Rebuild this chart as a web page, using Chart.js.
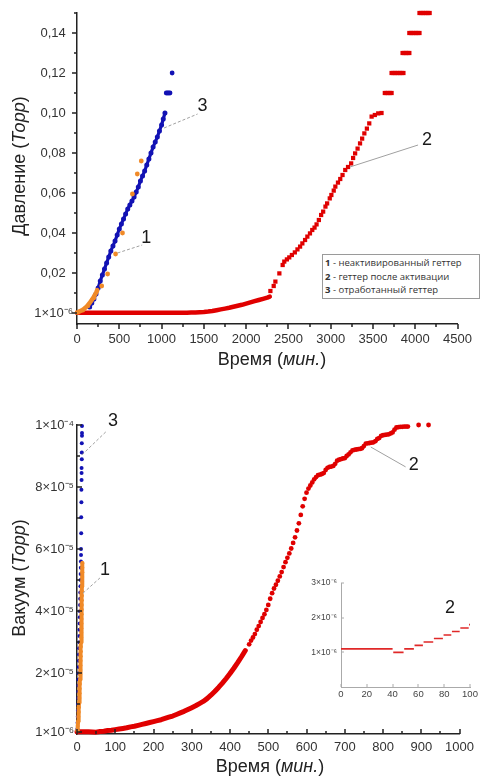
<!DOCTYPE html>
<html><head><meta charset="utf-8">
<script src="https://cdn.jsdelivr.net/npm/chart.js@4.4.1/dist/chart.umd.min.js"></script>
<style>
html,body{margin:0;padding:0;background:#fff;}
#page{position:relative;width:480px;height:776px;overflow:hidden;background:#fff;}
canvas{position:absolute;display:block;}
#legend{position:absolute;left:322px;top:254px;width:158px;height:45px;box-sizing:border-box;border:1px solid #9a9a9a;background:#fff;font:9.5px "Open Sans",sans-serif;color:#333;line-height:13.5px;padding:1px 0 0 2px;white-space:nowrap;}
</style></head>
<body><div id="page">
<canvas id="topChart" width="480" height="372" style="left:0;top:0"></canvas>
<canvas id="bottomChart" width="480" height="376" style="left:0;top:400px"></canvas>
<canvas id="insetChart" width="180" height="150" style="left:300px;top:560px"></canvas>
<div id="legend"></div>
</div>
<script>
// ---------- DATA ----------
const legendNumbers = ['1','2','3'];
const legendNames = ['неактивированный геттер','геттер после активации','отработанный геттер'];

// Top chart: time (min) vs pressure (Torr)
const topXTickValues = [0,500,1000,1500,2000,2500,3000,3500,4000,4500];
const topXMinor = [250,750,1250,1750,2250,2750,3250,3750,4250];
const topYTickValues = [0.000001,0.02,0.04,0.06,0.08,0.10,0.12,0.14];
const topYTickLabels = ['1×10⁻⁶','0,02','0,04','0,06','0,08','0,10','0,12','0,14'];
const topYMinor = [0.01,0.03,0.05,0.07,0.09,0.11,0.13,0.15];

const topOrangeDense = [[0,0.0002],[10,0.0004],[20,0.0006],[30,0.0008],[40,0.001],[50,0.0012],[60,0.0014],[70,0.0017],[80,0.002],[90,0.0023],[100,0.0027],[110,0.003],[120,0.0035],[130,0.004],[140,0.0045],[150,0.005],[160,0.0056],[170,0.0062],[180,0.0068],[190,0.0075],[200,0.0082],[210,0.0089],[220,0.0097],[230,0.0105],[240,0.0115]];
const topOrangeSparse = [[292,0.0135],[362,0.0195],[456,0.0295],[538,0.04],[655,0.0595],[713,0.0695],[760,0.076]];

const topBlueMain = [[150,0.003],[175,0.005],[200,0.007],[225,0.0095],[250,0.0125],[275,0.016],[300,0.019],[325,0.022],[350,0.025],[375,0.028],[400,0.031],[425,0.0335],[450,0.036],[475,0.039],[500,0.042],[525,0.0445],[550,0.047],[575,0.0495],[600,0.052],[625,0.054],[650,0.056],[675,0.058],[700,0.0605],[725,0.063],[750,0.066],[775,0.0685],[800,0.071],[825,0.074],[850,0.077],[875,0.08],[900,0.083],[925,0.0855],[950,0.088],[975,0.091],[1000,0.094],[1020,0.097],[1040,0.1]];
const topBlueTop = [[1055,0.11],[1070,0.11],[1085,0.11],[1100,0.11],[1125,0.12]];

const topRedFlat = [[0,0.0001],[50,0.0001],[100,0.0001],[150,0.0001],[200,0.0001],[250,0.0001],[300,0.0001],[350,0.0001],[400,0.0001],[450,0.0001],[500,0.0001],[550,0.0001],[600,0.0001],[650,0.0001],[700,0.0001],[750,0.0001],[800,0.0001],[850,0.0001],[900,0.0001],[950,0.0001],[1000,0.0001],[1050,0.0001],[1100,0.0001],[1150,0.0001],[1200,0.0001],[1250,0.0001],[1300,0.0001],[1350,0.0002],[1400,0.0003],[1450,0.0004],[1500,0.0005],[1550,0.0007],[1600,0.001],[1650,0.0014],[1700,0.0018],[1750,0.0022],[1800,0.0026],[1850,0.0031],[1900,0.0036],[1950,0.0041],[2000,0.0047],[2050,0.0053],[2100,0.0059],[2150,0.0065],[2200,0.0071],[2250,0.0077],[2280,0.0082]];
const topRedRise = [[2287,0.011],[2326,0.0135],[2346,0.0157],[2393,0.0198],[2432,0.024],[2451,0.0257],[2482,0.0268],[2510,0.0278],[2541,0.029],[2576,0.0303],[2607,0.0318],[2638,0.0332],[2665,0.0348],[2697,0.0365],[2724,0.0382],[2755,0.0398],[2782,0.0415],[2809,0.0427],[2833,0.0443],[2860,0.0465],[2887,0.049],[2911,0.0507],[2938,0.0532],[2958,0.0548],[2989,0.0573],[3008,0.059],[3036,0.0612],[3055,0.0632],[3086,0.0652],[3113,0.067],[3140,0.069],[3172,0.0715],[3205,0.073],[3242,0.0748],[3265,0.0775],[3289,0.0798],[3318,0.0822],[3347,0.0848],[3372,0.0872],[3398,0.0898],[3428,0.0922],[3456,0.0948],[3484,0.0982],[3522,0.099],[3562,0.0998],[3601,0.1]];
const topRedSteps = [[3640,0.11],[3660,0.11],[3680,0.11],[3700,0.11],[3720,0.11],[3720,0.12],[3740,0.12],[3760,0.12],[3780,0.12],[3800,0.12],[3820,0.12],[3840,0.12],[3860,0.12],[3850,0.13],[3870,0.13],[3890,0.13],[3910,0.13],[3930,0.13],[3930,0.14],[3950,0.14],[3970,0.14],[3990,0.14],[4010,0.14],[4030,0.14],[4050,0.14],[4050,0.15],[4070,0.15],[4090,0.15],[4110,0.15],[4130,0.15],[4150,0.15],[4170,0.15]];

const topCallouts = [
  {text:'1', at:[818,0.0375], from:[479,0.03], to:[771,0.034], dash:[3,2]},
  {text:'3', at:[1485,0.1035], from:[1029,0.0925], to:[1426,0.0995], dash:[3,2]},
  {text:'2', at:[4138,0.0865], from:[3227,0.073], to:[4033,0.084], dash:[]}
];

// Bottom chart: time (min) vs vacuum, values in units of 10^-6 Torr
const bottomXTickValues = [0,100,200,300,400,500,600,700,800,900,1000];
const bottomXMinor = [50,150,250,350,450,550,650,750,850,950];
const bottomYTickValues = [1,20,40,60,80,100];
const bottomYTickLabels = ['1×10⁻⁶','2×10⁻⁵','4×10⁻⁵','6×10⁻⁵','8×10⁻⁵','1×10⁻⁴'];
const bottomYMinor = [10,30,50,70,90];

const bottomOrange = [[1,1.5],[2,3],[3,4.5],[3.5,6],[4.5,7.5],[5,9],[5.5,10.5],[6,12],[6.5,13.5],[7,15],[7.5,16.5],[8,18],[8.3,19.5],[8.6,21],[9,22.5],[9.3,24],[9.6,25.5],[10,27],[10.2,28.5],[10.5,30],[10.8,31.5],[11,33],[11.2,34.5],[11.5,36],[11.7,37.5],[12,39],[12.2,40.5],[12.4,42],[12.6,43.5],[12.8,45],[13,46.5],[13.2,48],[13.4,49.5],[13.6,51],[13.8,52.5],[14,54],[14.2,55.5]];
const bottomBlue = [[1,2],[1.5,4],[2,6],[2.5,8],[3,10],[3.2,12],[3.5,14],[3.8,16],[4,18],[4.3,20],[4.6,22],[5,24],[5.3,26],[5.6,28],[6,30],[6.3,32],[6.6,34],[7,36],[7.3,38],[7.6,40],[8,42],[8.3,44],[8.6,46],[9,48],[9.3,50],[9.6,52],[10,54],[10.3,56],[10.5,58.1],[10.5,60],[11,65.1],[11,70.3],[11.5,75.1],[11.5,79.1],[12,82.3],[12,84.5],[12,86.1],[12.5,89],[12.5,91.1],[12.5,94.1],[13,96.5],[13,97.4],[13,99.7]];
const bottomRedSlow = [[0,1.1],[10,1.1],[20,1.1],[30,1.1],[40,1.05],[50,1.0],[60,1.2],[70,1.3],[80,1.5],[90,1.6],[100,1.8],[110,2.0],[120,2.2],[130,2.4],[140,2.7],[150,2.9],[160,3.2],[170,3.5],[180,3.8],[190,4.1],[200,4.4],[210,4.7],[220,5.0],[230,5.4],[240,5.8],[250,6.2],[260,6.7],[270,7.2],[280,7.7],[290,8.3],[300,8.9],[310,9.5],[320,10.2],[330,10.9],[340,11.8],[350,12.9],[360,14.1],[370,15.4],[380,16.8],[390,18.3],[400,19.9],[410,21.6],[420,23.4],[430,25.3],[440,27.3]];
const bottomRedFast = [[450,29.3],[455,30.5],[460,31.5],[465,32.6],[470,34.0],[475,35.2],[480,36.5],[485,37.8],[490,39.0],[495,40.4],[500,42.0],[505,44.0],[510,45.8],[515,47.3],[520,48.5],[525,49.8],[530,51.2],[535,52.6],[540,54.2],[545,55.8],[550,57.2],[555,58.6],[560,60.2],[565,62.0],[570,63.8],[575,66.0],[580,68.3],[585,71.0],[590,73.8],[595,76.2],[600,78.2]];
const bottomRedPlateau = [[605,79.5],[610,80.5],[615,81.5],[620,82.5],[625,83.2],[630,83.8],[635,84.0],[640,84.2],[645,84.5],[650,85.5],[655,86.2],[660,86.5],[665,86.6],[670,86.8],[675,87.5],[680,88.5],[685,88.8],[690,89.0],[695,89.2],[700,89.3],[705,90.0],[710,90.5],[715,91.2],[720,91.8],[725,92.0],[730,92.1],[735,92.2],[740,92.3],[745,92.5],[750,93.2],[755,94.0],[760,94.1],[765,94.2],[770,94.3],[775,94.4],[780,94.8],[785,95.5],[790,95.8],[795,96.5],[800,96.7],[805,96.8],[810,96.9],[815,97.0],[820,97.3],[825,97.6],[830,98.5],[835,99.2],[840,99.3],[845,99.4],[850,99.4],[855,99.5],[860,99.5],[865,99.5],[893,100],[919,100]];

const bottomCallouts = [
  {text:'3', at:[94,101.3], from:[13,90.4], to:[78,98.1], dash:[3,2]},
  {text:'1', at:[73,53.3], from:[15.6,45.8], to:[60,50.7], dash:[3,2]},
  {text:'2', at:[880,87.1], from:[768,92.9], to:[859,86.5], dash:[]}
];

// Inset: first 100 min of series 2, units of 10^-6 Torr
const insetXTickValues = [0,20,40,60,80,100];
const insetYTickValues = [1,2,3];
const insetYTickLabels = ['1×10⁻⁶','2×10⁻⁶','3×10⁻⁶'];
const insetStepStart = [0,40.5,49,57,64,72,79.5,86,92.5,99.3];
const insetStepEnd   = [40,48.5,56.5,63.5,71.5,79,85.5,92,99,100];
const insetStepValue = [1.1,1.0,1.1,1.2,1.3,1.4,1.5,1.6,1.7,1.8];
const insetCallouts = [{text:'2', at:[84.5,2.28], from:null, to:null}];

// ---------- STYLE ----------
const FONT = '"Liberation Sans", Arial, sans-serif';
const ORANGE = '#f08a28', BLUE = '#1212b4', RED = '#e00000';

document.getElementById('legend').innerHTML = legendNumbers.map((n,i)=>'<div><b>'+n+'</b> - '+legendNames[i]+'</div>').join('');

const toXY = arr => arr.map(p=>({x:p[0], y:p[1]}));
const pts = (label, arr, color, r, style) => ({label, data:toXY(arr), pointBackgroundColor:color, pointBorderWidth:0, pointRadius:r, pointStyle:style||'circle', showLine:false, clip:false});
const band = (label, arr, color, w, r) => ({label, data:toXY(arr), showLine:true, borderColor:color, borderWidth:w, borderCapStyle:'round', borderJoinStyle:'round', tension:0, pointBackgroundColor:color, pointBorderWidth:0, pointRadius:r||0, clip:false});

const tickPlugin = {
  id:'tickMarks',
  afterDraw(chart,_a,o){
    const {ctx, chartArea:a, scales:{x,y}} = chart;
    const s = o.inward ? -1 : 1;
    ctx.save(); ctx.strokeStyle=o.color; ctx.lineWidth=o.width; ctx.beginPath();
    const xt=(v,len)=>{const p=Math.round(x.getPixelForValue(v)); ctx.moveTo(p,a.bottom); ctx.lineTo(p,a.bottom+s*len);};
    const yt=(v,len)=>{const p=Math.round(y.getPixelForValue(v)); ctx.moveTo(a.left,p); ctx.lineTo(a.left-s*len,p);};
    (o.xMajor||[]).forEach(v=>xt(v,o.len)); (o.xMinor||[]).forEach(v=>xt(v,o.minorLen));
    (o.yMajor||[]).forEach(v=>yt(v,o.len)); (o.yMinor||[]).forEach(v=>yt(v,o.minorLen));
    ctx.stroke(); ctx.restore();
  }
};
const calloutPlugin = {
  id:'callouts',
  afterDatasetsDraw(chart,_a,o){
    const {ctx, scales:{x,y}} = chart;
    (o.items||[]).forEach(it=>{
      ctx.save();
      if (it.from && it.to){
        ctx.strokeStyle=o.lineColor; ctx.lineWidth=1; ctx.setLineDash(it.dash||[]);
        ctx.beginPath();
        ctx.moveTo(x.getPixelForValue(it.from[0]), y.getPixelForValue(it.from[1]));
        ctx.lineTo(x.getPixelForValue(it.to[0]), y.getPixelForValue(it.to[1]));
        ctx.stroke(); ctx.setLineDash([]);
      }
      ctx.font = o.size+'px '+FONT; ctx.fillStyle=o.color; ctx.textAlign='center'; ctx.textBaseline='middle';
      ctx.fillText(it.text, x.getPixelForValue(it.at[0]), y.getPixelForValue(it.at[1]));
      ctx.restore();
    });
  }
};
const titlePlugin = {
  id:'mixedTitles',
  afterDraw(chart,_a,o){
    const ctx = chart.ctx;
    (o.items||[]).forEach(it=>{
      ctx.save();
      ctx.translate(it.x, it.y);
      if (it.rotate) ctx.rotate(-Math.PI/2);
      ctx.fillStyle=o.color; ctx.textBaseline='middle'; ctx.textAlign='left';
      const f = ital => (ital?'italic ':'')+o.size+'px '+FONT;
      let w=0; it.parts.forEach(p=>{ctx.font=f(p[1]); w+=ctx.measureText(p[0]).width;});
      let cx=-w/2;
      it.parts.forEach(p=>{ctx.font=f(p[1]); ctx.fillText(p[0],cx,0); cx+=ctx.measureText(p[0]).width;});
      ctx.restore();
    });
  }
};

function scaleCfg({min,max,tickValues,tickLabels,size,padding,fitW,fitH,borderColor,borderWidth,color}){
  return {
    type:'linear', min, max,
    grid:{display:false, drawTicks:false},
    border:{display:true, color:borderColor, width:borderWidth},
    afterBuildTicks: s => { s.ticks = tickValues.map(v=>({value:v})); },
    afterFit: s => { if (fitW!==undefined) s.width = fitW; if (fitH!==undefined) s.height = fitH; },
    ticks:{autoSkip:false, maxRotation:0, minRotation:0, padding, color,
      font:{family:FONT, size},
      callback:(v,i)=> tickLabels ? tickLabels[i] : String(tickValues[i])}
  };
}

const baseOpts = {responsive:false, animation:false, devicePixelRatio:1, events:[]};

// Top chart
new Chart(document.getElementById('topChart'), {
  type:'scatter',
  data:{datasets:[
    band('1 - неактивированный геттер', topOrangeDense, ORANGE, 4.5, 0),
    pts('1 - неактивированный геттер (точки)', topOrangeSparse, ORANGE, 2.4),
    band('3 - отработанный геттер', topBlueMain, BLUE, 3.2, 2.5),
    pts('3 - отработанный геттер (верх)', topBlueTop, BLUE, 2.4),
    band('2 - геттер после активации', topRedFlat, RED, 4.5, 0),
    pts('2 - геттер после активации (рост)', topRedRise.concat(topRedSteps), RED, 3, 'rect')
  ]},
  options:Object.assign({}, baseOpts, {
    layout:{autoPadding:false, padding:{top:13, right:18, left:0, bottom:0}},
    scales:{
      x: scaleCfg({min:0,max:4500,tickValues:topXTickValues,size:13,padding:8,fitH:48,borderColor:'#222',borderWidth:1.5,color:'#333'}),
      y: scaleCfg({min:-0.0055,max:0.15,tickValues:topYTickValues,tickLabels:topYTickLabels.map(l=>/⁻/.test(l)?l:l+'  '),size:13,padding:4,fitW:77,borderColor:'#222',borderWidth:1.5,color:'#333'})
    },
    plugins:{
      legend:{display:false}, tooltip:{enabled:false},
      tickMarks:{inward:false, color:'#222', width:1.5, len:5, minorLen:3, xMajor:topXTickValues, xMinor:topXMinor, yMajor:topYTickValues, yMinor:topYMinor},
      callouts:{items:topCallouts, size:18, color:'#1a1a1a', lineColor:'#a0a0a0'},
      mixedTitles:{size:18, color:'#222', items:[
        {x:20, y:166, rotate:true, parts:[['Давление ',0],['(',0],['Торр',1],[')',0]]},
        {x:272, y:360, rotate:false, parts:[['Время ',0],['(',0],['мин.',1],[')',0]]}
      ]}
    }
  }),
  plugins:[tickPlugin, calloutPlugin, titlePlugin]
});

// Bottom chart
new Chart(document.getElementById('bottomChart'), {
  type:'scatter',
  data:{datasets:[
    band('1', bottomOrange, ORANGE, 4, 2),
    pts('3', bottomBlue, BLUE, 2.0),
    band('2 (медленный рост)', bottomRedSlow, RED, 5, 0),
    pts('2', bottomRedFast.concat(bottomRedPlateau), RED, 2.4)
  ]},
  options:Object.assign({}, baseOpts, {
    layout:{autoPadding:false, padding:{top:25, right:19, left:0, bottom:0}},
    scales:{
      x: scaleCfg({min:0,max:1000,tickValues:bottomXTickValues,size:13,padding:6,fitH:42,borderColor:'#222',borderWidth:1.5,color:'#333'}),
      y: scaleCfg({min:0.4,max:100,tickValues:bottomYTickValues,tickLabels:bottomYTickLabels,size:13,padding:3,fitW:77,borderColor:'#222',borderWidth:1.5,color:'#333'})
    },
    plugins:{
      legend:{display:false}, tooltip:{enabled:false},
      tickMarks:{inward:true, color:'#222', width:1.5, len:5, minorLen:3, xMajor:bottomXTickValues, xMinor:bottomXMinor, yMajor:bottomYTickValues, yMinor:bottomYMinor},
      callouts:{items:bottomCallouts, size:18, color:'#1a1a1a', lineColor:'#a0a0a0'},
      mixedTitles:{size:18, color:'#222', items:[
        {x:20, y:178, rotate:true, parts:[['Вакуум ',0],['(',0],['Торр',1],[')',0]]},
        {x:270, y:367, rotate:false, parts:[['Время ',0],['(',0],['мин.',1],[')',0]]}
      ]}
    }
  }),
  plugins:[tickPlugin, calloutPlugin, titlePlugin]
});

// Inset chart
const insetData = [];
insetStepStart.forEach((s,i)=>{
  insetData.push({x:s, y:insetStepValue[i]}, {x:insetStepEnd[i], y:insetStepValue[i]}, {x:insetStepEnd[i], y:null});
});
new Chart(document.getElementById('insetChart'), {
  type:'scatter',
  data:{datasets:[
    {label:'2 (0–100 мин)', data:insetData, showLine:true, spanGaps:false, borderColor:'#e02828', borderWidth:1.6, pointRadius:0, clip:false}
  ]},
  options:Object.assign({}, baseOpts, {
    layout:{autoPadding:false, padding:{top:23, right:10, left:0, bottom:0}},
    scales:{
      x: scaleCfg({min:0,max:100,tickValues:insetXTickValues,size:9.5,padding:2,fitH:23,borderColor:'#aaa',borderWidth:1,color:'#444'}),
      y: scaleCfg({min:0,max:3,tickValues:insetYTickValues,tickLabels:insetYTickLabels,size:8.5,padding:4,fitW:41,borderColor:'#aaa',borderWidth:1,color:'#444'})
    },
    plugins:{
      legend:{display:false}, tooltip:{enabled:false},
      tickMarks:{inward:true, color:'#aaa', width:1, len:3, minorLen:2, xMajor:insetXTickValues, xMinor:[], yMajor:insetYTickValues, yMinor:[]},
      callouts:{items:insetCallouts, size:18, color:'#1a1a1a', lineColor:'#a0a0a0'}
    }
  }),
  plugins:[tickPlugin, calloutPlugin]
});
</script>
</body></html>
